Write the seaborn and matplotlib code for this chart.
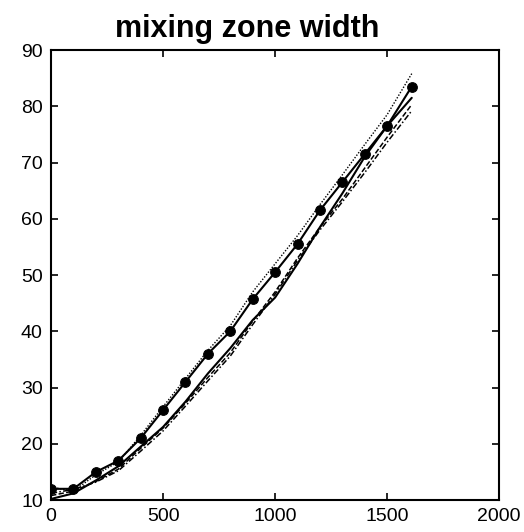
import numpy as np
import pandas as pd
import seaborn as sns
import matplotlib
matplotlib.use("Agg")
import matplotlib.pyplot as plt

# data
time = [0, 100, 200, 300, 400, 500, 600, 700, 800, 900, 1000, 1100, 1200, 1300, 1400, 1500, 1610]
width_dots = [12, 12, 15, 17, 21, 26, 31, 36, 40, 45.7, 50.5, 55.5, 61.5, 66.5, 71.5, 76.5, 83.5]
width_dotted = [12.3, 11.6, 14.5, 16.8, 21.5, 26.6, 31.6, 36.6, 41, 47, 52, 57, 62.5, 67.8, 73.2, 78.5, 85.8]
width_solid = [10.2, 11.2, 13.5, 16, 19.5, 23, 27.5, 32.5, 37, 42, 46, 52, 58.5, 64.5, 71, 76.5, 81.5]
width_dashed = [10.8, 11.6, 13.3, 15.5, 19.2, 22.8, 27.2, 31.8, 36.2, 41.8, 47, 53, 58.5, 63.5, 69, 74.5, 80.3]
width_dashdot = [11.2, 11.9, 13.2, 15.2, 18.7, 22.3, 26.7, 31.2, 35.6, 41.2, 46.6, 52.6, 58, 63, 68.2, 73.6, 79.2]

sns.set_style("ticks")
plt.rcParams["font.family"] = ["Liberation Sans", "DejaVu Sans"]

fig = plt.figure(figsize=(5.24, 5.32), dpi=100)
ax = fig.add_axes([0.0975, 0.06, 0.855, 0.846])

sns.lineplot(x=time, y=width_dashdot, ax=ax, color="black", lw=1.1, linestyle=(0, (4, 1.5, 1, 1.5)))
sns.lineplot(x=time, y=width_dashed, ax=ax, color="black", lw=1.1, linestyle=(0, (3.5, 1.5)))
sns.lineplot(x=time, y=width_solid, ax=ax, color="black", lw=1.5)
sns.lineplot(x=time, y=width_dotted, ax=ax, color="black", lw=1.0, linestyle=(0, (1, 1.2)))
sns.lineplot(x=time, y=width_dots, ax=ax, color="black", lw=1.5,
             marker="o", markersize=7, markeredgecolor="black")

ax.set_xlim(0, 2000)
ax.set_ylim(10, 90)
ax.set_xticks([0, 500, 1000, 1500, 2000])
ax.set_yticks(range(10, 91, 10))
ax.tick_params(direction="in", top=True, right=True, length=5, width=1.2,
               labelsize=14, pad=6, colors="black")
for s in ax.spines.values():
    s.set_linewidth(1.5)
    s.set_color("black")

# title sits a bit left of the axes centre in the original
fig.text(0.471, 0.930, "mixing zone width", fontsize=22, fontweight="bold",
         color="black", ha="center", va="baseline")

plt.savefig("out.png", dpi=100)
